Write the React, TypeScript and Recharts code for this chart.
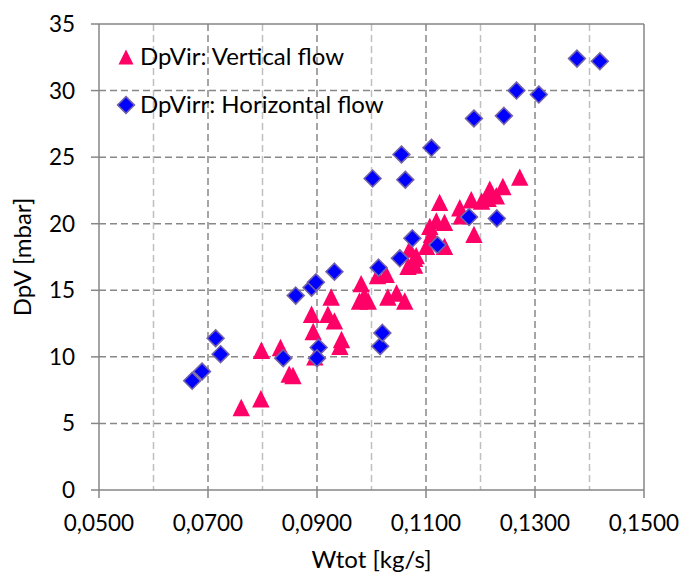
import React from 'react';
import {
  ScatterChart,
  Scatter,
  XAxis,
  YAxis,
  CartesianGrid,
  ReferenceLine,
  Legend,
  Label,
} from 'recharts';

// DpVir: vertical flow — total mass flow [kg/s] and pressure drop [mbar]
const verticalW = [
  0.0761, 0.0797, 0.0798, 0.0833, 0.0849, 0.0856, 0.089, 0.0893, 0.0896, 0.092,
  0.0926, 0.0932, 0.0942, 0.0945, 0.0981, 0.0978, 0.0994, 0.0987, 0.1011, 0.1027,
  0.103, 0.1046, 0.1061, 0.1067, 0.1079, 0.107, 0.1082, 0.1101, 0.1107, 0.111,
  0.1119, 0.1125, 0.1134, 0.1134, 0.1162, 0.1165, 0.1183, 0.1188, 0.1202, 0.1214,
  0.1217, 0.1229, 0.1241, 0.1272, 0.1079,
];
const verticalDp = [
  6.2, 6.85, 10.5, 10.7, 8.7, 8.6, 13.2, 11.9, 10.0, 13.2,
  14.5, 12.7, 10.8, 11.3, 15.5, 14.2, 14.2, 14.6, 16.1, 16.2,
  14.5, 14.8, 14.2, 16.8, 17.4, 18.1, 17.6, 18.3, 19.8, 19.2,
  20.2, 21.6, 20.1, 18.3, 21.2, 20.6, 21.8, 19.2, 21.7, 21.9,
  22.6, 22.1, 22.8, 23.5, 16.9,
];

// DpVirr: horizontal flow
const horizontalW = [
  0.0671, 0.0689, 0.0714, 0.0723, 0.0838, 0.0861, 0.089, 0.0898, 0.0932, 0.0903,
  0.09, 0.1002, 0.1013, 0.1016, 0.102, 0.1052, 0.1055, 0.1062, 0.1075, 0.111,
  0.1121, 0.1179, 0.1188, 0.123, 0.1243, 0.1266, 0.1307, 0.1377, 0.1419,
];
const horizontalDp = [
  8.2, 8.9, 11.4, 10.2, 9.9, 14.6, 15.2, 15.6, 16.4, 10.7,
  9.9, 23.4, 16.7, 10.8, 11.8, 17.4, 25.2, 23.3, 18.9, 25.7,
  18.4, 20.5, 27.9, 20.4, 28.1, 30.0, 29.7, 32.4, 32.2,
];

const seriesNames = ['DpVir: Vertical flow', 'DpVirr: Horizontal flow'];

const xTicks = [0.05, 0.07, 0.09, 0.11, 0.13, 0.15];
const xMajorGrid = [0.07, 0.09, 0.11, 0.13];
const xMinorGrid = [0.06, 0.08, 0.1, 0.12, 0.14];
const yTicks = [0, 5, 10, 15, 20, 25, 30, 35];
const yGrid = [5, 10, 15, 20, 25, 30];

const verticalData = verticalW.map((w, i) => ({ w, dp: verticalDp[i] }));
const horizontalData = horizontalW.map((w, i) => ({ w, dp: horizontalDp[i] }));

const FONT = 'Lato, "Open Sans", sans-serif';
const TICK_SIZE = 22.5;
const TITLE_SIZE = 24;
const AXIS = '#868686';
const PINK = '#FF0066';
const BLUE = '#0000FF';
const DIAMOND_EDGE = '#7462A8';

const trianglePoints = (cx: number, cy: number, r: number) =>
  `${cx},${cy - r} ${cx - r},${cy + r} ${cx + r},${cy + r}`;
const diamondPoints = (cx: number, cy: number, r: number) =>
  `${cx},${cy - r} ${cx + r},${cy} ${cx},${cy + r} ${cx - r},${cy}`;

const TriangleMark = (props: any) => {
  const { cx, cy } = props;
  if (cx == null || cy == null) return null;
  return <polygon points={trianglePoints(cx, cy, 8.7)} fill={PINK} />;
};

const DiamondMark = (props: any) => {
  const { cx, cy } = props;
  if (cx == null || cy == null) return null;
  return (
    <polygon
      points={diamondPoints(cx, cy, 8.4)}
      fill={BLUE}
      stroke={DIAMOND_EDGE}
      strokeWidth={1.6}
    />
  );
};

const renderLegend = (props: any) => {
  const payload = props.payload || [];
  return (
    <svg width={420} height={130} style={{ display: 'block' }}>
      {payload.map((entry: any, i: number) => {
        const cy = 57 + i * 48;
        const isTriangle = entry.type === 'triangle';
        return (
          <g key={`legend-${i}`}>
            {isTriangle ? (
              <polygon points={trianglePoints(126, cy, 7.5)} fill={PINK} />
            ) : (
              <polygon
                points={diamondPoints(126, cy, 8.4)}
                fill={BLUE}
                stroke={DIAMOND_EDGE}
                strokeWidth={1.6}
              />
            )}
            <text
              x={140}
              y={cy + 8}
              fontFamily={FONT}
              fontSize={TITLE_SIZE}
              fill="#000"
            >
              {entry.value}
            </text>
          </g>
        );
      })}
    </svg>
  );
};

const XTitle = (props: any) => {
  const vb = props.viewBox || { x: 0, y: 0, width: 0, height: 0 };
  const cx = vb.x + vb.width / 2;
  return (
    <text
      x={cx}
      y={vb.y + 78}
      textAnchor="middle"
      fontFamily={FONT}
      fontSize={TITLE_SIZE}
      fill="#000"
    >
      Wtot [kg/s]
    </text>
  );
};

const YTitle = (props: any) => {
  const vb = props.viewBox || { x: 0, y: 0, width: 0, height: 0 };
  const cx = vb.x + 21;
  const cy = vb.y + vb.height / 2;
  return (
    <text
      x={cx}
      y={cy}
      transform={`rotate(-90 ${cx} ${cy})`}
      textAnchor="middle"
      dominantBaseline="central"
      fontFamily={FONT}
      fontSize={TITLE_SIZE}
      fill="#000"
    >
      DpV [mbar]
    </text>
  );
};

const formatW = (v: number) => v.toFixed(4).replace('.', ',');

export default function App() {
  return (
    <div
      style={{
        position: 'absolute',
        left: 0,
        top: 0,
        width: 683,
        height: 574,
        background: '#fff',
      }}
    >
      <ScatterChart
        width={683}
        height={574}
        margin={{ top: 24, right: 39, bottom: 0, left: 0 }}
      >
        <CartesianGrid
          horizontal={false}
          verticalValues={xMinorGrid}
          stroke="#BFBFBF"
          strokeWidth={1.5}
          strokeDasharray="7 4"
        />
        <CartesianGrid
          horizontalValues={yGrid}
          verticalValues={xMajorGrid}
          stroke="#888888"
          strokeWidth={1.5}
          strokeDasharray="7 4"
        />
        <XAxis
          type="number"
          dataKey="w"
          domain={[0.05, 0.15]}
          ticks={xTicks}
          tickFormatter={formatW}
          allowDataOverflow
          height={84}
          stroke={AXIS}
          strokeWidth={1.5}
          tickSize={8}
          tickMargin={17}
          tick={{ fill: '#000', fontSize: TICK_SIZE, fontFamily: FONT }}
        >
          <Label content={<XTitle />} />
        </XAxis>
        <YAxis
          type="number"
          dataKey="dp"
          domain={[0, 35]}
          ticks={yTicks}
          allowDataOverflow
          width={99}
          stroke={AXIS}
          strokeWidth={1.5}
          tickSize={8}
          tickMargin={16}
          tick={{ fill: '#000', fontSize: TICK_SIZE, fontFamily: FONT }}
        >
          <Label content={<YTitle />} />
        </YAxis>
        <ReferenceLine y={35} stroke={AXIS} strokeWidth={1.5} />
        <ReferenceLine x={0.15} stroke={AXIS} strokeWidth={1.5} />
        <Legend
          layout="horizontal"
          verticalAlign="middle"
          align="center"
          content={renderLegend}
          wrapperStyle={{ left: 0, top: 0, width: 420, height: 130 }}
        />
        <Scatter
          name={seriesNames[0]}
          data={verticalData}
          legendType="triangle"
          fill={PINK}
          shape={<TriangleMark />}
          isAnimationActive={false}
        />
        <Scatter
          name={seriesNames[1]}
          data={horizontalData}
          legendType="diamond"
          fill={BLUE}
          shape={<DiamondMark />}
          isAnimationActive={false}
        />
      </ScatterChart>
    </div>
  );
}
